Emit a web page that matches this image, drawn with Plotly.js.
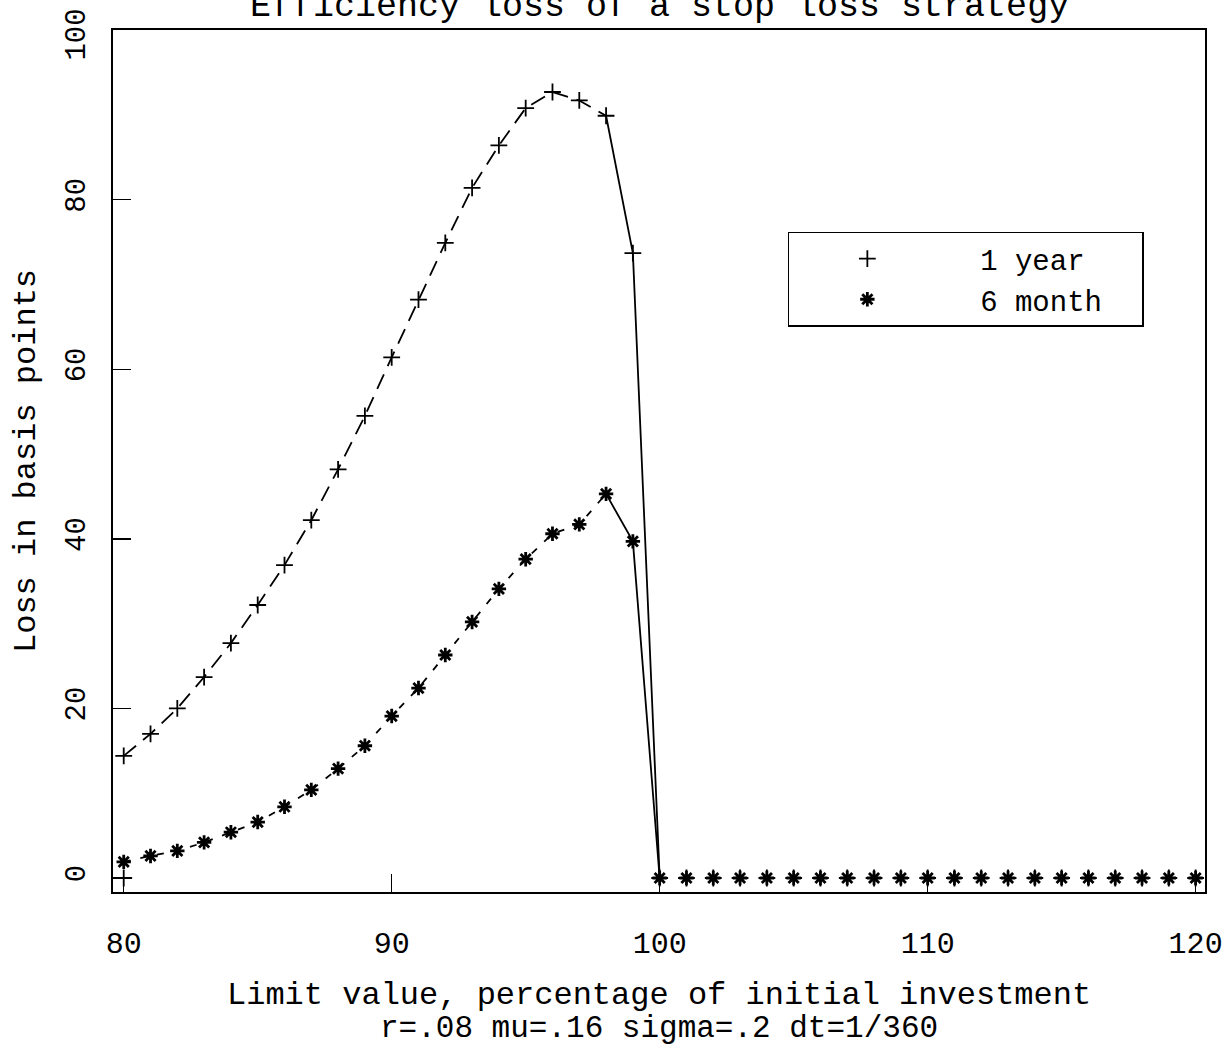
<!DOCTYPE html>
<html>
<head>
<meta charset="utf-8">
<script src="https://cdn.plot.ly/plotly-3.0.1.min.js"></script>
<style>
  html, body { margin: 0; padding: 0; background: #ffffff; }
  #chart { width: 1230px; height: 1046px; }
</style>
</head>
<body>
<div id="chart"></div>
<script>
// Limit value, percentage of initial investment
const limitValues = [80, 81, 82, 83, 84, 85, 86, 87, 88, 89, 90,
                     91, 92, 93, 94, 95, 96, 97, 98, 99, 100,
                     101, 102, 103, 104, 105, 106, 107, 108, 109, 110,
                     111, 112, 113, 114, 115, 116, 117, 118, 119, 120];
// Loss in basis points, 1 year horizon
const oneYear = [14.4, 17.0, 20.0, 23.7, 27.7, 32.2, 36.9, 42.2, 48.2, 54.5, 61.4,
                 68.2, 74.9, 81.4, 86.4, 90.8, 92.7, 91.7, 89.9, 73.7, 0,
                 0, 0, 0, 0, 0, 0, 0, 0, 0, 0,
                 0, 0, 0, 0, 0, 0, 0, 0, 0, 0];
// Loss in basis points, 6 month horizon
const sixMonth = [1.9, 2.6, 3.2, 4.2, 5.4, 6.6, 8.4, 10.4, 12.9, 15.6, 19.1,
                  22.4, 26.3, 30.2, 34.1, 37.6, 40.6, 41.7, 45.3, 39.7, 0,
                  0, 0, 0, 0, 0, 0, 0, 0, 0, 0,
                  0, 0, 0, 0, 0, 0, 0, 0, 0, 0];
// stray "+" drawn at the lower-left corner in the original
const strayX = [80];
const strayY = [0];

const xTicks = [80, 90, 100, 110, 120];
const yTicks = [0, 20, 40, 60, 80, 100];
const yTickText = ['0', '20', '40', '60', '80', '100 '];

const FONT = '"Liberation Mono", "Courier New", Courier, monospace';

// index split: dashed part 80..98, solid part 98..100
const iDashEnd = limitValues.indexOf(98);
const iLineEnd = limitValues.indexOf(100);

const traces = [
  { x: limitValues.slice(0, iDashEnd + 1), y: oneYear.slice(0, iDashEnd + 1),
    mode: 'lines', line: { color: '#000', width: 1.8, dash: '16px,9px' },
    showlegend: false, hoverinfo: 'skip' },
  { x: limitValues.slice(iDashEnd, iLineEnd + 1), y: oneYear.slice(iDashEnd, iLineEnd + 1),
    mode: 'lines', line: { color: '#000', width: 1.8 },
    showlegend: false, hoverinfo: 'skip' },
  { x: limitValues.slice(0, iDashEnd + 1), y: sixMonth.slice(0, iDashEnd + 1),
    mode: 'lines', line: { color: '#000', width: 1.8, dash: '7px,10px' },
    showlegend: false, hoverinfo: 'skip' },
  { x: limitValues.slice(iDashEnd, iLineEnd + 1), y: sixMonth.slice(iDashEnd, iLineEnd + 1),
    mode: 'lines', line: { color: '#000', width: 1.8 },
    showlegend: false, hoverinfo: 'skip' },
  { x: limitValues, y: oneYear, mode: 'markers', name: '  1 year  ',
    marker: { symbol: 'cross-thin-open', size: 12, color: '#000', line: { color: '#000', width: 1.8 } } },
  { x: strayX, y: strayY, mode: 'markers', showlegend: false,
    marker: { symbol: 'cross-thin-open', size: 12, color: '#000', line: { color: '#000', width: 1.8 } } },
  { x: limitValues, y: sixMonth, mode: 'markers', name: '  6 month  ',
    marker: { symbol: 'asterisk-open', size: 12, color: '#000', line: { color: '#000', width: 2.8 } } }
];

const layout = {
  width: 1230, height: 1046,
  margin: { l: 113, r: 25, t: 30, b: 154 },
  paper_bgcolor: '#ffffff', plot_bgcolor: '#ffffff',
  font: { family: FONT, color: '#000', size: 30 },
  showlegend: true,
  legend: {
    x: 0.618, y: 0.766, xanchor: 'left', yanchor: 'top',
    bgcolor: '#ffffff', bordercolor: '#000', borderwidth: 1.5,
    font: { family: FONT, size: 29, color: '#000' },
    itemwidth: 146, tracegroupgap: 0
  },
  xaxis: {
    range: [79.6, 120.35], tickvals: xTicks, ticktext: xTicks.map(String),
    ticks: 'inside', ticklen: 18, tickwidth: 1.5, tickcolor: '#000',
    showline: true, linecolor: '#000', linewidth: 2, mirror: true,
    showgrid: false, zeroline: false,
    tickfont: { family: FONT, size: 30, color: '#000' },
    ticklabelstandoff: 23, ticklabeloverflow: 'allow'
  },
  yaxis: {
    range: [-1.65, 100.01], tickvals: yTicks, ticktext: yTickText,
    ticks: 'inside', ticklen: 18, tickwidth: 1.5, tickcolor: '#000',
    showline: true, linecolor: '#000', linewidth: 2, mirror: true,
    showgrid: false, zeroline: false, tickangle: -90,
    tickfont: { family: FONT, size: 29, color: '#000' },
    ticklabelstandoff: 14, ticklabeloverflow: 'allow',
    title: { text: 'Loss in basis points', font: { family: FONT, size: 32, color: '#000' }, standoff: 16 }
  },
  annotations: [
    { text: 'Efficiency loss of a stop loss strategy', xref: 'paper', yref: 'paper',
      x: 0.5, y: 1.0011, xanchor: 'center', yanchor: 'bottom', showarrow: false,
      font: { family: FONT, size: 35, color: '#000' } },
    { text: 'Limit value, percentage of initial investment', xref: 'paper', yref: 'paper',
      x: 0.5, y: -0.1195, xanchor: 'center', yanchor: 'middle', showarrow: false,
      font: { family: FONT, size: 32, color: '#000' } },
    { text: 'r=.08 mu=.16 sigma=.2 dt=1/360', xref: 'paper', yref: 'paper',
      x: 0.5, y: -0.1589, xanchor: 'center', yanchor: 'middle', showarrow: false,
      font: { family: FONT, size: 31, color: '#000' } }
  ]
};

Plotly.newPlot('chart', traces, layout, { displayModeBar: false, staticPlot: true });
</script>
</body>
</html>
